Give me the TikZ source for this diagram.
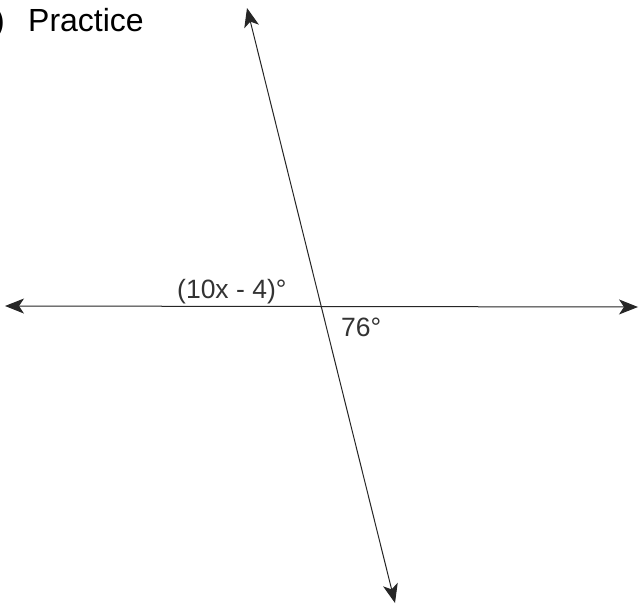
\documentclass[tikz,border=0pt]{standalone}
\usepackage{fontspec}
\setmainfont{Liberation Sans}
\usetikzlibrary{arrows.meta}
\begin{document}
\begin{tikzpicture}[x=1pt,y=-1pt,
  ray/.style={line width=1pt,draw=black!85,{Stealth[length=19pt,width=15pt,inset=5pt]}-{Stealth[length=19pt,width=15pt,inset=5pt]}},
  lbl/.style={anchor=base west,inner sep=0pt,font=\fontsize{26.5}{31}\selectfont,text=black!80},
  ttl/.style={anchor=base west,inner sep=0pt,font=\fontsize{32}{38}\selectfont}]
\useasboundingbox[fill=white] (0,0) rectangle (639,604);
\coordinate (hl) at (5,306);
\coordinate (hr) at (638,307);
\coordinate (vt) at (247,8);
\coordinate (vb) at (395,603);
\draw[ray] (hl) -- (hr);
\draw[ray] (vt) -- (vb);
\node[ttl] (par) at (-6,32) {)};
\node[ttl] (title) at (28,32) {Practice};
\node[lbl] (a1) at (177,298) {(10x - 4)°};
\node[lbl] (a2) at (341,336) {76°};
\end{tikzpicture}
\end{document}
